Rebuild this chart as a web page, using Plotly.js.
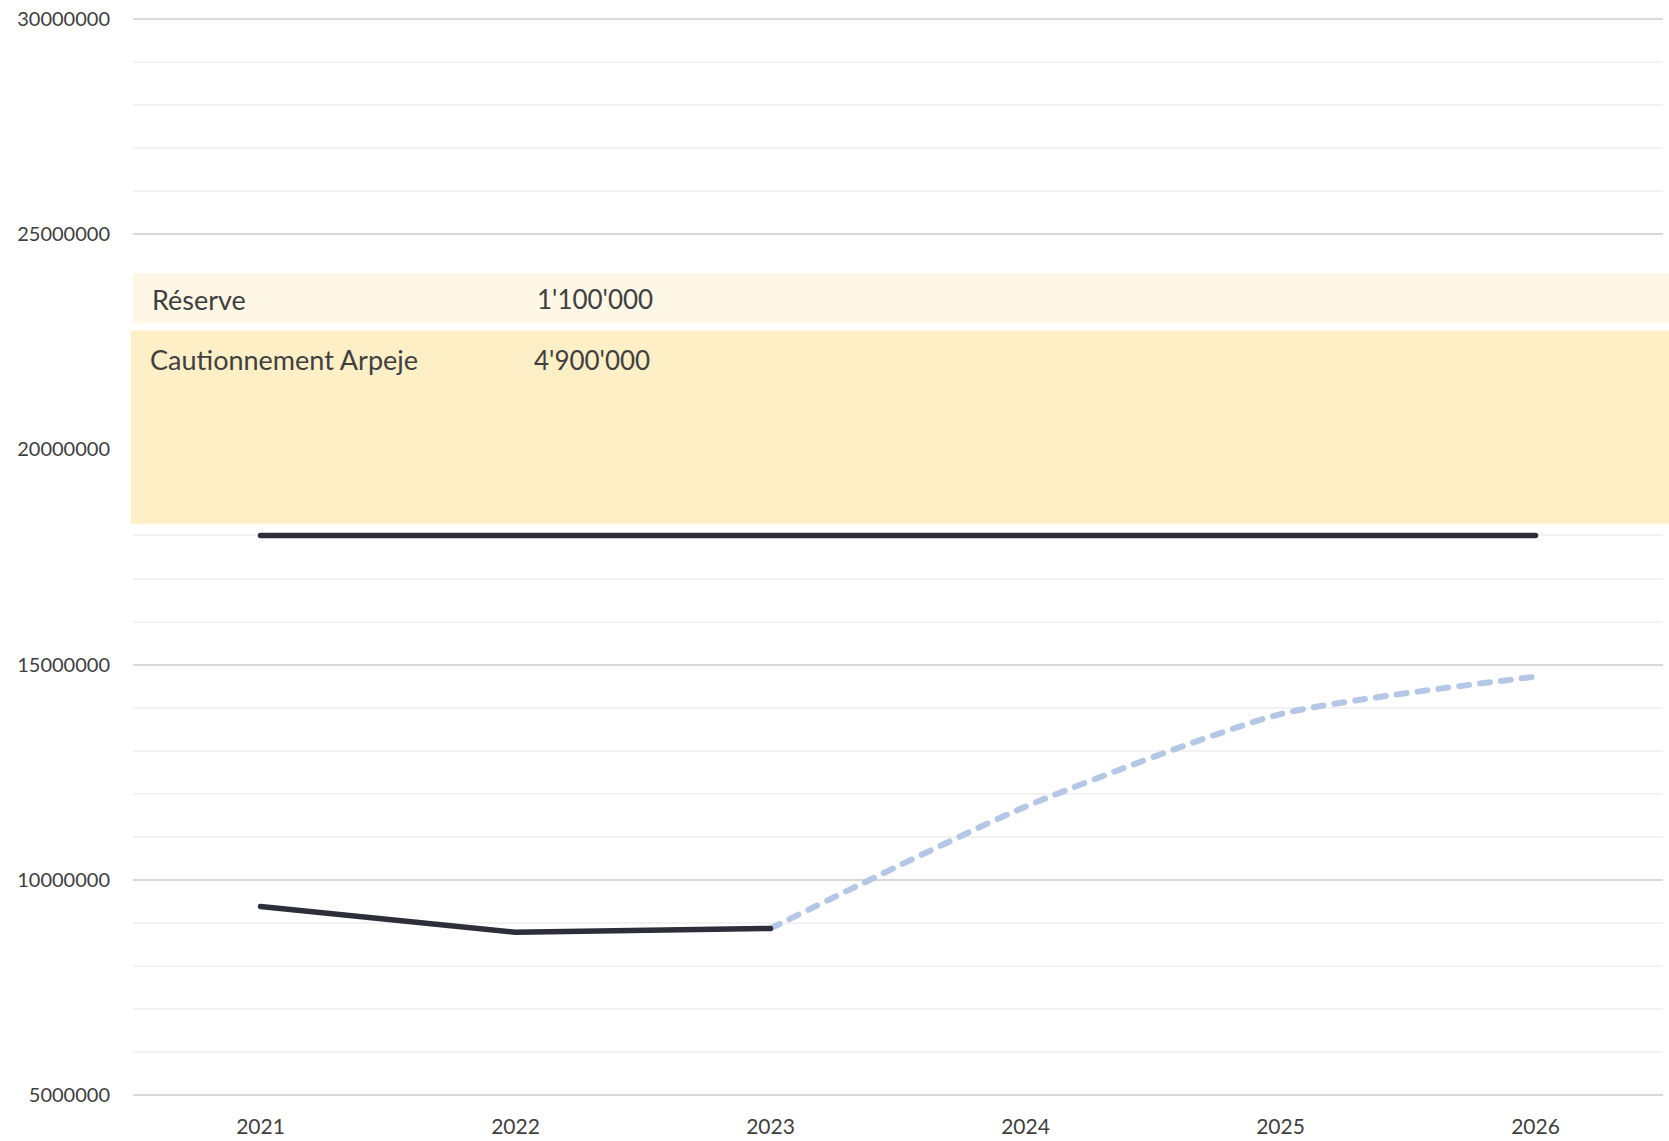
<!DOCTYPE html>
<html>
<head>
<meta charset="utf-8">
<script src="https://cdn.plot.ly/plotly-3.0.1.min.js"></script>
<style>
  html, body { margin: 0; padding: 0; background: #ffffff; }
  #chart { width: 1669px; height: 1141px; }
</style>
</head>
<body>
<div id="chart"></div>
<script>
// ---- data ----
const years = ['2021', '2022', '2023', '2024', '2025', '2026'];
const actual = [9380000, 8780000, 8870000, null, null, null];
const forecast = [null, null, 8870000, 11700000, 13850000, 14720000];
const threshold = [18000000, 18000000, 18000000, 18000000, 18000000, 18000000];
const bandLabels = ['Réserve', 'Cautionnement Arpeje'];
const bandAmounts = [1100000, 4900000];
const yTicks = [5000000, 10000000, 15000000, 20000000, 25000000, 30000000];

function fmt(n) {
  return String(n).replace(/\B(?=(\d{3})+(?!\d))/g, "'");
}

// ---- presentation ----
const FONT = 'Lato, "Open Sans", sans-serif';
const TXT = '#404040';
const bandBoxes = [
  { y0: 22930000, y1: 24090000, x0: 0.0, color: '#FEF7E6' },
  { y0: 18270000, y1: 22760000, x0: -0.0013, color: '#FEEFC6' }
];
const labelY = [0.7384, 0.6821];
const labelX = [0.0110, 0.0097];
const amountX = [0.2626, 0.2606];

const traces = [
  {
    x: years, y: threshold, type: 'scatter', mode: 'lines',
    line: { color: '#2C2F3A', width: 5.5 }, hoverinfo: 'skip', showlegend: false
  },
  {
    x: years, y: forecast, type: 'scatter', mode: 'lines',
    line: { color: '#B4C7E7', width: 6, dash: '10px,11px', shape: 'spline', smoothing: 0.6 },
    connectgaps: false, hoverinfo: 'skip', showlegend: false
  },
  {
    x: years, y: actual, type: 'scatter', mode: 'lines',
    line: { color: '#2C2F3A', width: 5.5 }, hoverinfo: 'skip', showlegend: false
  }
];

const shapes = bandBoxes.map(b => ({
  type: 'rect', xref: 'paper', yref: 'y',
  x0: b.x0, x1: 1.005, y0: b.y0, y1: b.y1,
  fillcolor: b.color, line: { width: 0 }, layer: 'above'
}));

const annotations = [];
bandLabels.forEach((lab, i) => {
  annotations.push({
    text: lab, xref: 'paper', yref: 'paper', x: labelX[i], y: labelY[i],
    xanchor: 'left', yanchor: 'middle', showarrow: false,
    font: { family: FONT, size: 27, color: TXT }
  });
  annotations.push({
    text: fmt(bandAmounts[i]), xref: 'paper', yref: 'paper', x: amountX[i], y: labelY[i],
    xanchor: 'left', yanchor: 'middle', showarrow: false,
    font: { family: FONT, size: 26, color: TXT }
  });
});

const layout = {
  width: 1669, height: 1141,
  margin: { l: 133, r: 6, t: 16, b: 43, pad: 0 },
  paper_bgcolor: '#ffffff', plot_bgcolor: '#ffffff',
  showlegend: false,
  font: { family: FONT, color: TXT, size: 20 },
  xaxis: {
    type: 'category', categoryorder: 'array', categoryarray: years,
    range: [-0.5, 5.5], showgrid: false, zeroline: false, showline: false,
    ticks: '', ticklabelstandoff: 14,
    tickfont: { family: FONT, size: 21, color: TXT }
  },
  yaxis: {
    range: [4930000, 30070000], tickmode: 'array', tickvals: yTicks,
    ticktext: yTicks.map(String),
    showgrid: true, gridcolor: '#D9D9D9', gridwidth: 2,
    zeroline: false, showline: false, ticks: '', ticklabelstandoff: 22,
    tickfont: { family: FONT, size: 20, color: TXT },
    minor: { dtick: 1000000, tick0: 0, showgrid: true, gridcolor: '#F2F2F2', gridwidth: 2, ticks: '' }
  },
  shapes: shapes,
  annotations: annotations
};

Plotly.newPlot('chart', traces, layout, { staticPlot: true, displayModeBar: false }).then(() => {
  document.querySelectorAll('.scatterlayer path.js-line').forEach(p => {
    p.style.strokeLinecap = 'round';
    p.style.strokeLinejoin = 'round';
  });
});
</script>
</body>
</html>
